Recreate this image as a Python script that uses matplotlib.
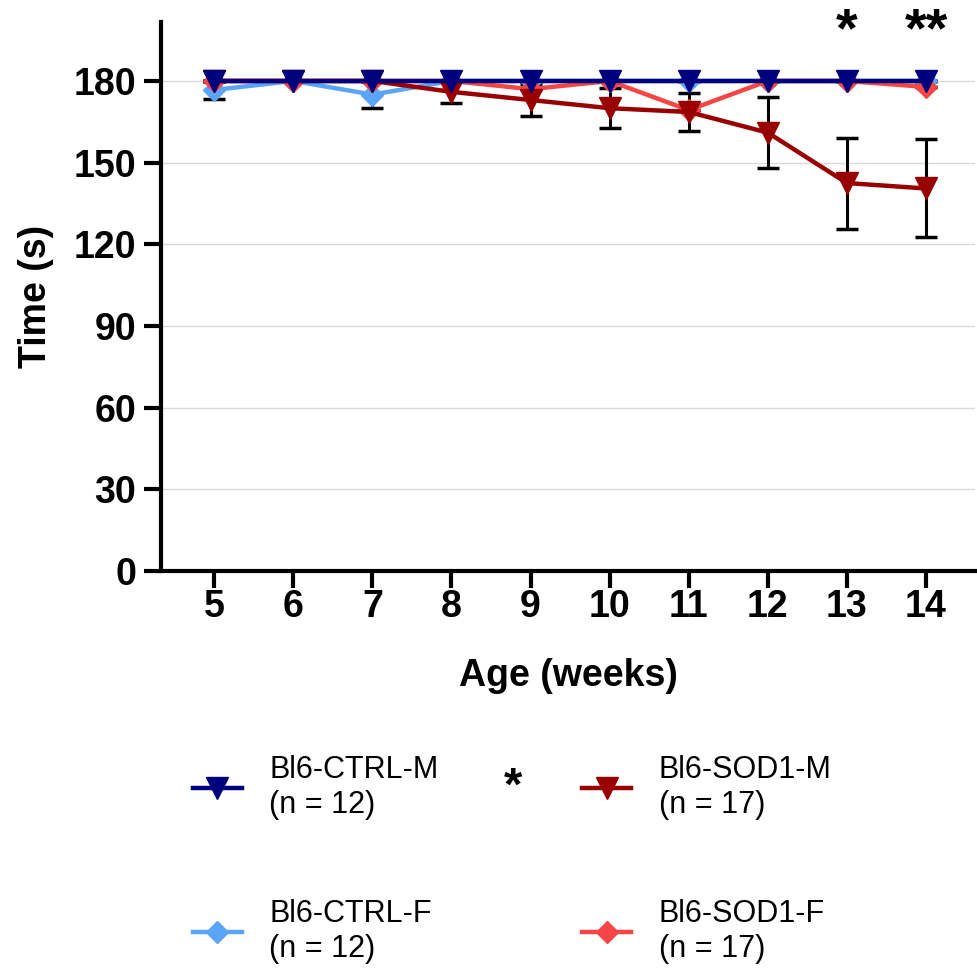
import matplotlib
matplotlib.use("Agg")
import matplotlib.pyplot as plt
import numpy as np

plt.rcParams['font.family'] = ['Liberation Sans', 'DejaVu Sans']

weeks = [5, 6, 7, 8, 9, 10, 11, 12, 13, 14]

ctrl_m = [180, 180, 180, 180, 180, 180, 180, 180, 180, 180]
ctrl_m_err = [0, 0, 0, 0, 0, 0, 0, 0, 0, 0]
ctrl_f = [176.7, 180, 175, 180, 180, 180, 180, 180, 180, 180]
ctrl_f_err = [3.4, 0, 5, 0, 0, 0, 0, 0, 0, 0]
sod1_m = [180, 180, 180, 176, 173, 170, 168.6, 161, 142.5, 140.5]
sod1_m_err = [0, 0, 0, 4, 6, 7.3, 7, 13, 16.7, 18]
sod1_f = [180, 180, 180, 180, 177, 180, 169.3, 180, 180, 177.8]
sod1_f_err = [0, 0, 0, 0, 0, 0, 0, 0, 0, 0]

labels = ["Bl6-CTRL-M\n(n = 12)", "Bl6-CTRL-F\n(n = 12)",
          "Bl6-SOD1-M\n(n = 17)", "Bl6-SOD1-F\n(n = 17)"]
colors = ["#00007f", "#5aa5f8", "#990000", "#f54545"]

fig = plt.figure(figsize=(9.77, 9.77), dpi=100)
ax = fig.add_axes([0.165, 0.4156, 0.833, 0.562])

# error bars first, then lines (females behind, males on top)
for vals, errs in [(ctrl_f, ctrl_f_err), (sod1_f, sod1_f_err), (sod1_m, sod1_m_err), (ctrl_m, ctrl_m_err)]:
    e = np.array(errs, dtype=float)
    ax.errorbar(weeks, vals, yerr=e, fmt='none', ecolor='black', elinewidth=2.2,
                capsize=8, capthick=2.5, zorder=2)

h_cf, = ax.plot(weeks, ctrl_f, color=colors[1], lw=3.2, marker='D', ms=11, zorder=3)
h_sf, = ax.plot(weeks, sod1_f, color=colors[3], lw=3.2, marker='D', ms=11, zorder=3)
h_sm, = ax.plot(weeks, sod1_m, color=colors[2], lw=3.2, marker='v', ms=16, zorder=4)
h_cm, = ax.plot(weeks, ctrl_m, color=colors[0], lw=3.2, marker='v', ms=16, zorder=5)

ax.set_xlim(4.33, 14.62)
ax.set_ylim(0, 201.7)
ax.set_yticks([0, 30, 60, 90, 120, 150, 180])
ax.set_xticks(weeks)
ax.yaxis.grid(True, color='#d9d9d9', lw=1)
ax.set_axisbelow(True)

for s in ['top', 'right']:
    ax.spines[s].set_visible(False)
for s in ['left', 'bottom']:
    ax.spines[s].set_linewidth(3)

ax.tick_params(axis='both', length=12, width=3, labelsize=27)
ax.tick_params(axis='x', pad=1)
ax.tick_params(axis='y', pad=6)
for lab in ax.get_xticklabels() + ax.get_yticklabels():
    lab.set_fontweight('bold')

ax.set_xlabel("Age (weeks)", fontsize=27, fontweight='bold', labelpad=24)
ax.set_ylabel("Time (s)", fontsize=27, fontweight='bold', labelpad=14)

# significance marks
ax.text(13, 197.8, "*", fontsize=40, fontweight='bold', ha='center', va='center', clip_on=False)
ax.text(14, 197.8, "**", fontsize=40, fontweight='bold', ha='center', va='center', clip_on=False)

fig.legend([h_cm, h_cf, h_sm, h_sf], labels, ncol=2, loc='upper left',
           bbox_to_anchor=(0.1975, 0.227), frameon=False, fontsize=22,
           handlelength=1.6, handletextpad=0.9, columnspacing=4.7,
           labelspacing=2.6, borderpad=0, borderaxespad=0, markerscale=1.0)
fig.text(513 / 977, 1 - 788 / 977, "*", fontsize=34, fontweight='bold', ha='center', va='center')

fig.savefig("out.png", dpi=100)
